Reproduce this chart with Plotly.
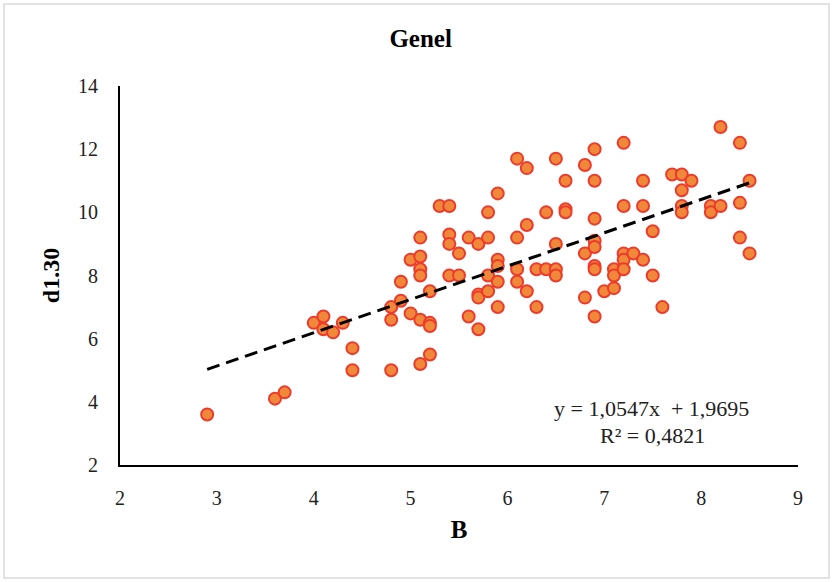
import plotly.graph_objects as go

# Data (B vs d1.30)
b_values = [2.9, 3.6, 3.7, 4.0, 4.1, 4.1, 4.2, 4.3, 4.4, 4.4,
            4.8, 4.8, 4.8, 4.9, 4.9, 5.0, 5.0, 5.1, 5.1, 5.1,
            5.1, 5.1, 5.1, 5.2, 5.2, 5.2, 5.2, 5.3, 5.4, 5.4,
            5.4, 5.4, 5.5, 5.5, 5.6, 5.6, 5.7, 5.7, 5.7, 5.7,
            5.8, 5.8, 5.8, 5.8, 5.9, 5.9, 5.9, 5.9, 5.9, 6.1,
            6.1, 6.1, 6.1, 6.2, 6.2, 6.2, 6.3, 6.3, 6.4, 6.4,
            6.5, 6.5, 6.5, 6.5, 6.6, 6.6, 6.6, 6.8, 6.8, 6.8,
            6.9, 6.9, 6.9, 6.9, 6.9, 6.9, 6.9, 6.9, 7.0, 7.1,
            7.1, 7.1, 7.2, 7.2, 7.2, 7.2, 7.2, 7.3, 7.4, 7.4,
            7.4, 7.5, 7.5, 7.6, 7.7, 7.8, 7.8, 7.8, 7.8, 7.9,
            8.1, 8.1, 8.2, 8.2, 8.4, 8.4, 8.4, 8.5, 8.5]
d130_values = [3.6, 4.1, 4.3, 6.5, 6.7, 6.3, 6.2, 6.5, 5.7, 5.0,
               7.0, 6.6, 5.0, 7.8, 7.2, 8.5, 6.8, 9.2, 8.6, 8.2,
               8.0, 6.6, 5.2, 7.5, 6.5, 6.4, 5.5, 10.2, 10.2, 9.3,
               9.0, 8.0, 8.7, 8.0, 9.2, 6.7, 9.0, 7.4, 7.3, 6.3,
               10.0, 9.2, 8.0, 7.5, 10.6, 8.5, 8.3, 7.8, 7.0, 11.7,
               9.2, 8.2, 7.8, 11.4, 9.6, 7.5, 8.2, 7.0, 10.0, 8.2,
               11.7, 9.0, 8.2, 8.0, 11.0, 10.1, 10.0, 11.5, 8.7, 7.3,
               12.0, 11.0, 9.8, 9.1, 8.9, 8.3, 8.2, 6.7, 7.5, 8.2,
               8.0, 7.6, 12.2, 10.2, 8.7, 8.5, 8.2, 8.7, 11.0, 10.2,
               8.5, 9.4, 8.0, 7.0, 11.2, 11.2, 10.7, 10.2, 10.0, 11.0,
               10.2, 10.0, 10.2, 12.7, 12.2, 10.3, 9.2, 11.0, 8.7]

slope = 1.0547
intercept = 1.9695
r_squared = 0.4821

x_ticks = [2, 3, 4, 5, 6, 7, 8, 9]
y_ticks = [2, 4, 6, 8, 10, 12, 14]

trend_x = [min(b_values), max(b_values)]
trend_y = [slope * x + intercept for x in trend_x]

serif = "Liberation Serif, Times New Roman, serif"

fig = go.Figure()
fig.add_trace(go.Scatter(
    x=b_values, y=d130_values, mode="markers",
    marker=dict(size=12, color="#F0883A", line=dict(color="#EE3A2C", width=2)),
    showlegend=False, hoverinfo="x+y"))
fig.add_trace(go.Scatter(
    x=trend_x, y=trend_y, mode="lines",
    line=dict(color="black", width=3, dash="13px,7px"),
    showlegend=False, hoverinfo="skip"))

eq_text = ("y = " + f"{slope:.4f}".replace(".", ",") + "x\u00a0 + " +
           f"{intercept:.4f}".replace(".", ","))
r2_text = "R² = " + f"{r_squared:.4f}".replace(".", ",")

fig.add_annotation(x=7.49, y=3.8, xref="x", yref="y", text=eq_text,
                   showarrow=False, font=dict(family=serif, size=22, color="#222"))
fig.add_annotation(x=7.5, y=2.95, xref="x", yref="y", text=r2_text,
                   showarrow=False, font=dict(family=serif, size=22, color="#222"))

fig.update_layout(
    width=833, height=582,
    margin=dict(l=120, r=35, t=86, b=117),
    paper_bgcolor="white", plot_bgcolor="white",
    title=dict(text="<b>Genel</b>", x=0.505, xanchor="center", y=0.935, yanchor="middle",
               font=dict(family=serif, size=25, color="black")),
    xaxis=dict(range=[2, 9], tickvals=x_ticks, showgrid=False, zeroline=False,
               showline=True, linecolor="black", linewidth=2, ticks="",
               ticklabelstandoff=14,
               tickfont=dict(family=serif, size=20, color="#222"),
               title=dict(text="<b>B</b>", font=dict(family=serif, size=25, color="black"),
                          standoff=12)),
    yaxis=dict(range=[2, 14], tickvals=y_ticks, showgrid=False, zeroline=False,
               showline=True, linecolor="black", linewidth=2, ticks="",
               ticklabelstandoff=16,
               tickfont=dict(family=serif, size=20, color="#222"),
               title=dict(text="<b>d1.30</b>", font=dict(family=serif, size=24, color="black"),
                          standoff=12)),
    shapes=[dict(type="rect", xref="paper", yref="paper",
                 x0=(4 - 120) / 678, x1=(829 - 120) / 678,
                 y0=(465 - 578) / 379, y1=(465 - 4) / 379,
                 line=dict(color="#D9D9D9", width=1.5), layer="below")],
)

fig.write_html("out.html")
